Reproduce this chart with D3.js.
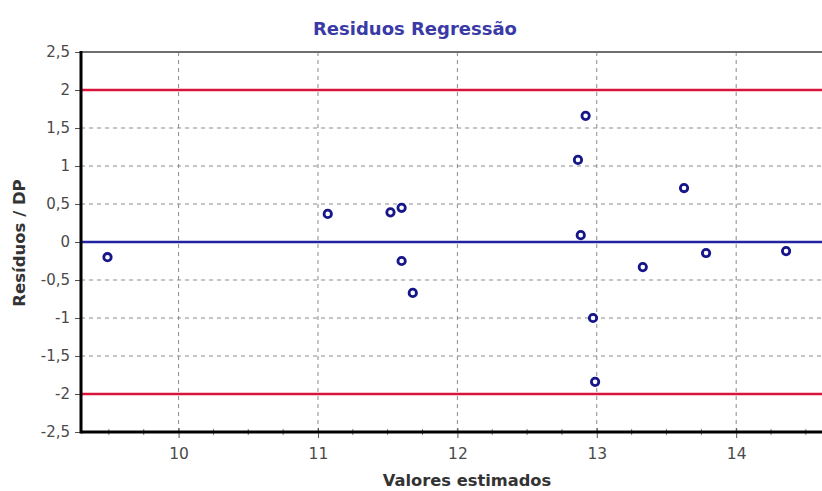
<!DOCTYPE html>
<html>
<head>
<meta charset="utf-8">
<script src="https://cdn.jsdelivr.net/npm/d3@7"></script>
<style>
  html, body { margin: 0; padding: 0; background: #fff; }
  svg { display: block; }
  text { font-family: "DejaVu Sans", Verdana, sans-serif; }
</style>
</head>
<body>
<svg id="chart" width="822" height="491"></svg>
<script>
// Fitted values and standardized residuals
const fitted = [9.49, 11.07, 11.52, 11.60, 11.60, 11.68, 12.865, 12.92, 12.885, 12.973, 12.988, 13.33, 13.626, 13.784, 14.358];
const residSD = [-0.20, 0.37, 0.39, 0.45, -0.25, -0.67, 1.08, 1.66, 0.09, -1.00, -1.84, -0.33, 0.71, -0.145, -0.12];

// Axis ticks
const xTicks = [10, 11, 12, 13, 14];
const xMinorTicks = [9.5, 9.75, 10.25, 10.5, 10.75, 11.25, 11.5, 11.75, 12.25, 12.5, 12.75, 13.25, 13.5, 13.75, 14.25, 14.5];
const yTicks = [2.5, 2, 1.5, 1, 0.5, 0, -0.5, -1, -1.5, -2, -2.5];
const yGrid = [1.5, 1, 0.5, -0.5, -1, -1.5];
const limits = [2, -2];

const titleText = "Residuos Regressão";
const xLabel = "Valores estimados";
const yLabel = "Resíduos / DP";

const svg = d3.select("#chart");
const plotLeft = 81, plotTop = 52, plotBottom = 432;

const x = d3.scaleLinear().domain([9.3, 14.7]).range([plotLeft, plotLeft + 5.4 * 139.4]);
const y = d3.scaleLinear().domain([-2.5, 2.5]).range([plotBottom, plotTop]);
const plotRight = x.range()[1];

const fmt = v => String(v).replace(".", ",");

// Dashed grid
const grid = svg.append("g").attr("stroke", "#8a8a8a").attr("stroke-width", 1).attr("stroke-dasharray", "4,4");
grid.selectAll("line.h").data(yGrid).join("line").attr("class", "h")
  .attr("x1", plotLeft).attr("x2", plotRight).attr("y1", d => y(d)).attr("y2", d => y(d));
grid.selectAll("line.v").data(xTicks).join("line").attr("class", "v")
  .attr("x1", d => x(d)).attr("x2", d => x(d)).attr("y1", plotTop).attr("y2", plotBottom);

// Top frame line
svg.append("line").attr("x1", plotLeft).attr("x2", plotRight).attr("y1", plotTop).attr("y2", plotTop)
  .attr("stroke", "#6e6e6e").attr("stroke-width", 2);

// Control limits at ±2 and zero reference
svg.selectAll("line.limit").data(limits).join("line").attr("class", "limit")
  .attr("x1", plotLeft).attr("x2", plotRight).attr("y1", d => y(d)).attr("y2", d => y(d))
  .attr("stroke", "#d8143a").attr("stroke-width", 2.5);
svg.append("line").attr("x1", plotLeft).attr("x2", plotRight).attr("y1", y(0)).attr("y2", y(0))
  .attr("stroke", "#2323a0").attr("stroke-width", 2.5);

// Axes
const xAxis = d3.axisBottom(x).tickValues(xTicks).tickSize(6).tickPadding(10).tickFormat(fmt);
const gx = svg.append("g").attr("transform", `translate(0,${plotBottom})`).call(xAxis);
gx.select(".domain").remove();
gx.selectAll(".tick line").attr("stroke", "#555").attr("y1", -4);
gx.selectAll(".tick text").attr("fill", "#4a4a4a").attr("font-size", 15.5);

// Minor x ticks
svg.append("g").selectAll("line").data(xMinorTicks).join("line")
  .attr("x1", d => x(d)).attr("x2", d => x(d)).attr("y1", plotBottom - 3).attr("y2", plotBottom + 3)
  .attr("stroke", "#777").attr("stroke-width", 1);

const yAxis = d3.axisLeft(y).tickValues(yTicks).tickSize(6).tickPadding(5).tickFormat(fmt);
const gy = svg.append("g").attr("transform", `translate(${plotLeft},0)`).call(yAxis);
gy.select(".domain").remove();
gy.selectAll(".tick line").attr("stroke", "#555");
gy.selectAll(".tick text").attr("fill", "#4a4a4a").attr("font-size", 15);

// Axis lines
svg.append("line").attr("x1", plotLeft).attr("x2", plotRight).attr("y1", plotBottom).attr("y2", plotBottom)
  .attr("stroke", "#000").attr("stroke-width", 3);
svg.append("line").attr("x1", plotLeft).attr("x2", plotLeft).attr("y1", plotTop - 1).attr("y2", plotBottom + 1.5)
  .attr("stroke", "#000").attr("stroke-width", 3);

// Residual points
svg.append("g").selectAll("circle").data(fitted.map((f, i) => [f, residSD[i]])).join("circle")
  .attr("cx", d => x(d[0])).attr("cy", d => y(d[1])).attr("r", 3.7)
  .attr("fill", "#fff").attr("stroke", "#16168a").attr("stroke-width", 2.8);

// Titles
svg.append("text").attr("x", 415).attr("y", 35).attr("text-anchor", "middle")
  .attr("font-size", 18).attr("font-weight", "bold").attr("fill", "#3a3aa6").text(titleText);
svg.append("text").attr("x", 467).attr("y", 486).attr("text-anchor", "middle")
  .attr("font-size", 16.3).attr("font-weight", "bold").attr("fill", "#333").text(xLabel);
svg.append("text").attr("transform", "translate(25,243) rotate(-90)").attr("text-anchor", "middle")
  .attr("font-size", 16.5).attr("font-weight", "bold").attr("fill", "#333").text(yLabel);
</script>
</body>
</html>
